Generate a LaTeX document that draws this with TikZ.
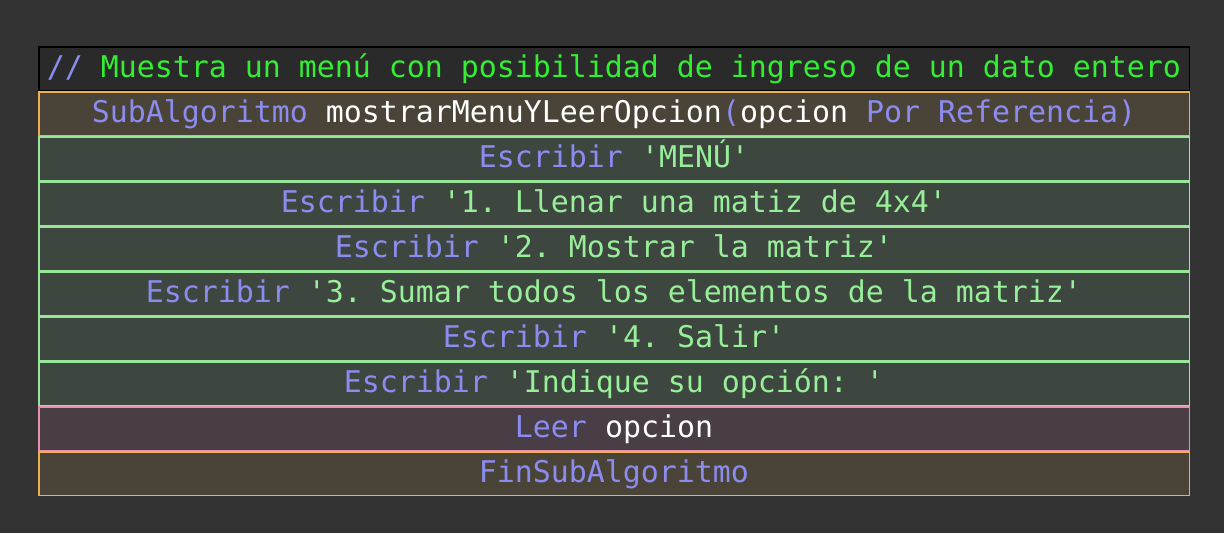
\documentclass[tikz,border=0pt]{standalone}
\usepackage{fontspec}
\setmonofont{DejaVu Sans Mono}
\definecolor{bgc}{HTML}{333333}
\definecolor{cmtfill}{HTML}{2A2A2A}
\definecolor{hdrfill}{HTML}{4A4438}
\definecolor{hdrline}{HTML}{F0B050}
\definecolor{grnfill}{HTML}{3D473F}
\definecolor{grnline}{HTML}{99E699}
\definecolor{pnkfill}{HTML}{4A3E46}
\definecolor{pnkline}{HTML}{E890B0}
\definecolor{kw}{HTML}{8C8CF0}
\definecolor{str}{HTML}{99EE99}
\definecolor{cmt}{HTML}{33EE33}
\newcommand{\K}[1]{\textcolor{kw}{#1}}
\newcommand{\St}[1]{\textcolor{str}{#1}}
\newcommand{\Cm}[1]{\textcolor{cmt}{#1}}
\newcommand{\W}[1]{\textcolor{white}{#1}}
\begin{document}
\begin{tikzpicture}[x=1pt,y=-1pt,
  rowbox/.style={rectangle, line width=1.5pt, minimum width=1150.5pt, minimum height=43.5pt,
    inner sep=0pt, text height=24pt, text depth=7pt,
    font=\ttfamily\fontsize{29.9pt}{32pt}\selectfont},
  cmtbox/.style={rowbox, draw=black, fill=cmtfill},
  hdrbox/.style={rowbox, draw=hdrline, fill=hdrfill},
  grnbox/.style={rowbox, draw=grnline, fill=grnfill},
  pnkbox/.style={rowbox, draw=pnkline, fill=pnkfill}]
\fill[bgc] (0,0) rectangle (1224,533);
\useasboundingbox (0,0) rectangle (1224,533);
\node[cmtbox] (c0) at (614,68.5) {\K{//} \Cm{Muestra un menú con posibilidad de ingreso de un dato entero}};
\node[hdrbox] (h1) at (614,113.5) {\K{SubAlgoritmo} \W{mostrarMenuYLeerOpcion}\K{(}\W{opcion} \K{Por Referencia)}};
\node[grnbox] (g1) at (614,158.5) {\K{Escribir} \St{'MENÚ'}};
\node[grnbox] (g2) at (614,203.5) {\K{Escribir} \St{'1. Llenar una matiz de 4x4'}};
\node[grnbox] (g3) at (614,248.5) {\K{Escribir} \St{'2. Mostrar la matriz'}};
\node[grnbox] (g4) at (614,293.5) {\K{Escribir} \St{'3. Sumar todos los elementos de la matriz'}};
\node[grnbox] (g5) at (614,338.5) {\K{Escribir} \St{'4. Salir'}};
\node[grnbox] (g6) at (614,383.5) {\K{Escribir} \St{'Indique su opción: '}};
\node[pnkbox] (p1) at (614,428.5) {\K{Leer} \W{opcion}};
\node[hdrbox] (h2) at (614,473.5) {\K{FinSubAlgoritmo}};
\end{tikzpicture}
\end{document}
